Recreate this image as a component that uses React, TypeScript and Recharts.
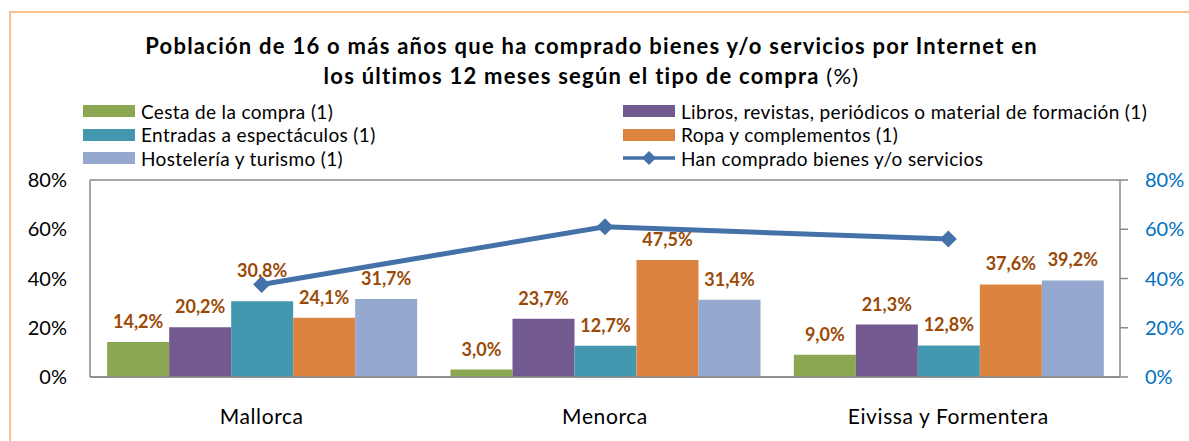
import { ComposedChart, Bar, Line, XAxis, YAxis, CartesianGrid, LabelList } from 'recharts'

const ISLANDS = ['Mallorca', 'Menorca', 'Eivissa y Formentera']
const CESTA = [14.2, 3.0, 9.0]
const LIBROS = [20.2, 23.7, 21.3]
const ENTRADAS = [30.8, 12.7, 12.8]
const ROPA = [24.1, 47.5, 37.6]
const HOSTELERIA = [31.7, 31.4, 39.2]
const TOTAL = [37.6, 61.0, 56.0]
const Y_TICKS = [0, 20, 40, 60, 80]

const BAR_SERIES = [
  { key: 'cesta', name: 'Cesta de la compra (1)', color: '#8CA751', values: CESTA },
  { key: 'libros', name: 'Libros, revistas, periódicos o material de formación (1)', color: '#72598F', values: LIBROS },
  { key: 'entradas', name: 'Entradas a espectáculos (1)', color: '#4398B0', values: ENTRADAS },
  { key: 'ropa', name: 'Ropa y complementos (1)', color: '#DD8340', values: ROPA },
  { key: 'hosteleria', name: 'Hostelería y turismo (1)', color: '#95A9D0', values: HOSTELERIA },
]
const LINE_NAME = 'Han comprado bienes y/o servicios'
const LINE_COLOR = '#4571A9'
const LABEL_COLOR = '#9A4A08'

const FONT = 'Lato, Carlito, Calibri, sans-serif'
const AXIS_GRAY = '#8A8A8A'

const data = ISLANDS.map((island, i) => {
  const row: Record<string, string | number> = { island, total: TOTAL[i] }
  BAR_SERIES.forEach((s) => {
    row[s.key] = s.values[i]
  })
  return row
})

const fmt = (v: number) => `${v.toFixed(1).replace('.', ',')}%`

function Diamond(props: { cx?: number; cy?: number }) {
  const { cx, cy } = props
  if (cx == null || cy == null) return null
  const r = 8.5
  return (
    <polygon
      points={`${cx},${cy - r} ${cx + r},${cy} ${cx},${cy + r} ${cx - r},${cy}`}
      fill={LINE_COLOR}
    />
  )
}

// bar value label; a label that would sit on the line gets lifted a bit, as Excel did
function BarLabel(props: any) {
  const { x, y, width, value, index, lift } = props
  const extra = lift && lift[index] ? lift[index] : 0
  return (
    <text
      x={x + width / 2}
      y={y - 14 - extra}
      textAnchor="middle"
      fontFamily={FONT}
      fontSize={18}
      fontWeight={700}
      fill={LABEL_COLOR}
    >
      {fmt(Number(value))}
    </text>
  )
}

// legend order as in the picture: two columns, three rows
const LEGEND_ROWS = [
  [BAR_SERIES[0], BAR_SERIES[1]],
  [BAR_SERIES[2], BAR_SERIES[3]],
  [BAR_SERIES[4], null],
]

function LegendBox() {
  const cols = [83, 623]
  return (
    <>
      {LEGEND_ROWS.map((row, r) =>
        row.map((s, c) => {
          const top = 99 + r * 23.5
          const left = cols[c]
          return (
            <div
              key={`${r}-${c}`}
              style={{
                position: 'absolute',
                left,
                top,
                height: 24,
                display: 'flex',
                alignItems: 'center',
                fontFamily: FONT,
                fontSize: 19,
                color: '#000',
                whiteSpace: 'nowrap',
                letterSpacing: 0.35,
              }}
            >
              {s ? (
                <span style={{ display: 'inline-block', width: 52, height: 12, background: s.color }} />
              ) : (
                <svg width={52} height={16}>
                  <line x1={0} y1={8} x2={52} y2={8} stroke={LINE_COLOR} strokeWidth={3.5} />
                  <polygon points="26,1 33,8 26,15 19,8" fill={LINE_COLOR} />
                </svg>
              )}
              <span style={{ marginLeft: 6 }}>{s ? s.name : LINE_NAME}</span>
            </div>
          )
        })
      )}
    </>
  )
}

export default function App() {
  return (
    <div style={{ position: 'relative', width: 1189, height: 441, overflow: 'hidden', background: '#fff' }}>
      <style>{'body{margin:0}'}</style>
      <div
        style={{
          position: 'absolute',
          left: 9,
          top: 11,
          width: 1240,
          height: 480,
          border: '2px solid #FAC090',
        }}
      />
      <div
        style={{
          position: 'absolute',
          left: 0,
          top: 31,
          width: 1183,
          textAlign: 'center',
          fontFamily: FONT,
          fontWeight: 700,
          fontSize: 22,
          letterSpacing: 1.25,
          lineHeight: '30px',
          color: '#000',
        }}
      >
        Población de 16 o más años que ha comprado bienes y/o servicios por Internet en
        <br />
        los últimos 12 meses según el tipo de compra <span style={{ fontWeight: 400 }}>(%)</span>
      </div>
      <LegendBox />
      <div style={{ position: 'absolute', left: 0, top: 0 }}>
        <ComposedChart
          width={1189}
          height={441}
          data={data}
          margin={{ top: 180, right: 0, bottom: 0, left: 0 }}
          barCategoryGap="5%"
          barGap={0}
        >
          <CartesianGrid vertical={false} stroke={AXIS_GRAY} strokeWidth={1.5} />
          <XAxis
            dataKey="island"
            height={64}
            tickLine={false}
            tickSize={0}
            tickMargin={32}
            axisLine={{ stroke: AXIS_GRAY, strokeWidth: 1.5 }}
            tick={{ fontSize: 21, fill: '#000', fontFamily: FONT, letterSpacing: 0.6 }}
          />
          <YAxis
            yAxisId="left"
            width={90}
            domain={[0, 80]}
            ticks={Y_TICKS}
            tickFormatter={(v: number) => `${v}%`}
            tickLine={false}
            tickSize={0}
            tickMargin={23}
            axisLine={{ stroke: AXIS_GRAY, strokeWidth: 1.5 }}
            tick={{ fontSize: 20, fill: '#000', fontFamily: FONT }}
          />
          <YAxis
            yAxisId="right"
            orientation="right"
            width={69}
            domain={[0, 80]}
            ticks={Y_TICKS}
            tickFormatter={(v: number) => `${v}%`}
            tickSize={8}
            tickMargin={17}
            tickLine={{ stroke: AXIS_GRAY, strokeWidth: 1.5 }}
            axisLine={{ stroke: AXIS_GRAY, strokeWidth: 1.5 }}
            tick={{ fontSize: 20, fill: '#0070C0', fontFamily: FONT, textAnchor: 'start' }}
          />
          {BAR_SERIES.map((s) => (
            <Bar key={s.key} yAxisId="left" dataKey={s.key} name={s.name} fill={s.color} isAnimationActive={false}>
              <LabelList
                dataKey={s.key}
                content={<BarLabel lift={s.key === 'entradas' ? [10, 0, 0] : undefined} />}
              />
            </Bar>
          ))}
          <Line
            yAxisId="right"
            dataKey="total"
            name={LINE_NAME}
            stroke={LINE_COLOR}
            strokeWidth={5}
            dot={<Diamond />}
            activeDot={false}
            isAnimationActive={false}
          />
        </ComposedChart>
      </div>
    </div>
  )
}
